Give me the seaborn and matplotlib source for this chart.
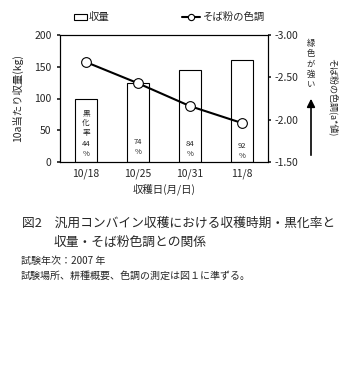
import matplotlib
matplotlib.use("Agg")
import matplotlib.pyplot as plt
import seaborn as sns
import pandas as pd
import numpy as np

sns.set_theme(style="white")
plt.rcParams['font.family'] = ['Noto Sans CJK JP', 'DejaVu Sans']

dates = ["10/18", "10/25", "10/31", "11/8"]
yield_kg = [100, 125, 145, 160]
color_a = [-2.68, -2.43, -2.16, -1.96]
black_rate = ["黒\n化\n率\n44\n%", "74\n%", "84\n%", "92\n%"]
label_y = [45, 24, 20, 17]

df = pd.DataFrame({"date": dates, "yield": yield_kg, "a": color_a})

fig = plt.figure(figsize=(3.51, 3.73), dpi=100)
ax = fig.add_axes([60/351, 1-162/373, 208/351, 127/373])

sns.barplot(data=df, x="date", y="yield", ax=ax, color="white",
            edgecolor="black", linewidth=0.8, width=0.43, saturation=1)
ax.set_ylim(0, 200)
ax.set_yticks([0, 50, 100, 150, 200])
ax.set_xlim(-0.5, 3.5)
ax.tick_params(axis='both', labelsize=7.5, length=2, direction='out', pad=4)
ax.tick_params(axis='x', length=0, pad=5)
for s in ax.spines.values():
    s.set_color("black")
    s.set_linewidth(0.8)
ax.set_xlabel("収穫日(月/日)", fontsize=7.5, labelpad=3)
ax.set_ylabel("10a当たり収量(kg)", fontsize=7.5, labelpad=8)

for i, (t, yv) in enumerate(zip(black_rate, label_y)):
    ax.text(i, yv, t, ha='center', va='center', fontsize=5.5, linespacing=1.35)

ax2 = ax.twinx()
sns.lineplot(x=np.arange(len(dates)), y=df["a"], ax=ax2, color="black",
             linewidth=1.5, marker="o", markersize=7, markerfacecolor="white",
             markeredgecolor="black", markeredgewidth=0.8)
ax2.set_ylim(-1.5, -3.0)
ax2.set_yticks([-3.0, -2.5, -2.0, -1.5])
ax2.set_yticklabels(["-3.00", "-2.50", "-2.00", "-1.50"])
ax2.tick_params(axis='y', labelsize=7.5, length=2, pad=3)
ax2.set_ylabel("")
for s in ax2.spines.values():
    s.set_color("black")
    s.set_linewidth(0.8)

# right-side annotations
fig.text(333/351, 1-97/373, "そば粉の色調(a*値)", rotation=-90, fontsize=6.5,
         ha='center', va='center')
fig.text(311/351, 1-64/373, "緑\n色\nが\n強\nい", fontsize=6, ha='center',
         va='center', linespacing=1.2)
fig.add_artist(matplotlib.patches.FancyArrowPatch(
    (311/351, 1-158/373), (311/351, 1-96/373), transform=fig.transFigure,
    arrowstyle='-|>', mutation_scale=12, color='black', linewidth=1.2))

# legend
fig.add_artist(matplotlib.patches.Rectangle((74/351, 1-20/373), 13/351, 6/373,
               transform=fig.transFigure, facecolor='white', edgecolor='black', linewidth=0.8))
fig.text(89/351, 1-17/373, "収量", fontsize=7.5, va='center')
fig.add_artist(matplotlib.lines.Line2D([182/351, 200/351], [1-17/373, 1-17/373],
               transform=fig.transFigure, color='black', linewidth=1.5))
fig.add_artist(matplotlib.lines.Line2D([191/351], [1-17/373], transform=fig.transFigure,
               marker='o', markersize=4.5, markerfacecolor='white', markeredgecolor='black',
               markeredgewidth=0.8))
fig.text(203/351, 1-17/373, "そば粉の色調", fontsize=7.5, va='center')

# captions
fig.text(22/351, 1-223/373, "図2　汎用コンバイン収穫における収穫時期・黒化率と", fontsize=9.2, va='center')
fig.text(54/351, 1-242/373, "収量・そば粉色調との関係", fontsize=9.2, va='center')
fig.text(21/351, 1-261/373, "試験年次：2007 年", fontsize=7.2, va='center')
fig.text(21/351, 1-276/373, "試験場所、耕種概要、色調の測定は図１に準ずる。", fontsize=7.2, va='center')

fig.savefig("out.png", dpi=100)
